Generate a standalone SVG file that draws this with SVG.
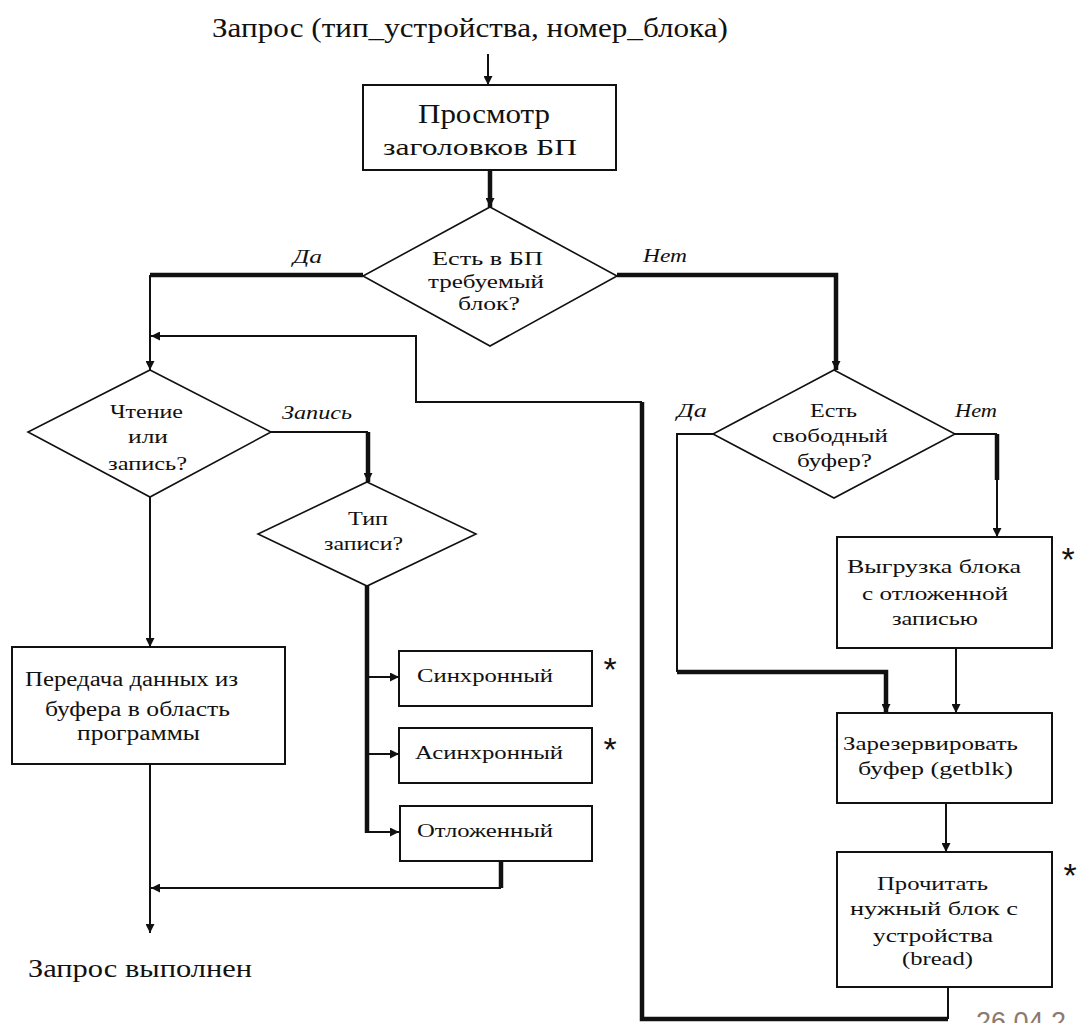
<svg xmlns="http://www.w3.org/2000/svg" width="1081" height="1023" viewBox="0 0 1081 1023">
  <style>
    .t { font-family: "Liberation Serif", "Times New Roman", serif; fill: #111; }
    .c { text-anchor: middle; }
    .lbl { font-family: "Liberation Serif", "Times New Roman", serif; font-style: italic; fill: #111; font-size: 18px; }
    .box { fill: #fff; stroke: #111; stroke-width: 2; }
    .dia { fill: #fff; stroke: #111; stroke-width: 1.6; }
    .thin { fill: none; stroke: #111; stroke-width: 2; }
    .thick { fill: none; stroke: #111; stroke-width: 4.5; }
    .star { font-family: "Liberation Sans", Arial, sans-serif; font-size: 34px; fill: #111; text-anchor: middle; }
    .date { font-family: "Liberation Sans", Arial, sans-serif; font-size: 27px; fill: #8a7a70; }
  </style>
  <defs>
    <marker id="arr" viewBox="0 0 10 10" refX="10" refY="5" markerWidth="9" markerHeight="9" markerUnits="userSpaceOnUse" orient="auto">
      <path d="M0,0 L10,5 L0,10 z" fill="#111"/>
    </marker>
  </defs>
  <rect width="1081" height="1023" fill="#fff"/>

  <!-- connectors -->
  <g id="connectors">
    <path class="thin" d="M488,54 V85" marker-end="url(#arr)"/>
    <path class="thick" d="M490,170 V207" marker-end="url(#arr)"/>
    <!-- yes: block found -->
    <path class="thick" d="M363,275 H150"/>
    <path class="thin" d="M150,275 V370" marker-end="url(#arr)"/>
    <!-- no: block missing -->
    <path class="thick" d="M617,275 H836 V370" marker-end="url(#arr)"/>
    <!-- free buffer: yes -->
    <path class="thin" d="M713,434 H677 V672"/>
    <path class="thick" d="M677,672 H886 V713" marker-end="url(#arr)"/>
    <!-- free buffer: no -->
    <path class="thin" d="M955,434 H997"/>
    <path class="thick" d="M997,434 V480"/>
    <path class="thin" d="M997,480 V537" marker-end="url(#arr)"/>
    <path class="thin" d="M956,648 V713" marker-end="url(#arr)"/>
    <path class="thin" d="M946,803 V852" marker-end="url(#arr)"/>
    <!-- loop back after reading the block -->
    <path class="thin" d="M948,987 V1019"/>
    <path class="thick" d="M948,1019 H642 V402"/>
    <path class="thin" d="M642,402 H416 V336 H151" marker-end="url(#arr)"/>
    <!-- read / write -->
    <path class="thin" d="M150,497 V647" marker-end="url(#arr)"/>
    <path class="thin" d="M271,432 H368"/>
    <path class="thick" d="M368,432 V482" marker-end="url(#arr)"/>
    <path class="thick" d="M367,586 V833"/>
    <path class="thin" d="M367,677 H399" marker-end="url(#arr)"/>
    <path class="thin" d="M367,754 H399" marker-end="url(#arr)"/>
    <path class="thin" d="M367,832 H399" marker-end="url(#arr)"/>
    <path class="thick" d="M501,861 V888"/>
    <path class="thin" d="M501,888 H151" marker-end="url(#arr)"/>
    <path class="thin" d="M150,764 V933" marker-end="url(#arr)"/>
  </g>

  <g id="request">
    <text class="t" x="212" y="37" font-size="28" textLength="516" lengthAdjust="spacingAndGlyphs">Запрос (тип_устройства, номер_блока)</text>
  </g>

  <g id="scan-headers">
    <rect class="box" x="363" y="85" width="253" height="85"/>
    <text class="t" x="418" y="123" font-size="28" textLength="132" lengthAdjust="spacingAndGlyphs">Просмотр</text>
    <text class="t" x="383" y="155" font-size="24" textLength="194" lengthAdjust="spacingAndGlyphs">заголовков БП</text>
  </g>

  <g id="block-in-cache">
    <polygon class="dia" points="490,207 617,276 490,346 363,276"/>
    <text class="t" x="432" y="265" font-size="19" textLength="111" lengthAdjust="spacingAndGlyphs">Есть в БП</text>
    <text class="t" x="428" y="288" font-size="19" textLength="116" lengthAdjust="spacingAndGlyphs">требуемый</text>
    <text class="t" x="458" y="310" font-size="19" textLength="62" lengthAdjust="spacingAndGlyphs">блок?</text>
    <text class="lbl" x="293" y="263" textLength="29" lengthAdjust="spacingAndGlyphs">Да</text>
    <text class="lbl" x="643" y="262" textLength="44" lengthAdjust="spacingAndGlyphs">Нет</text>
  </g>

  <g id="read-or-write">
    <polygon class="dia" points="150,370 271,432 150,497 28,432"/>
    <text class="t" x="110" y="418" font-size="18" textLength="73" lengthAdjust="spacingAndGlyphs">Чтение</text>
    <text class="t" x="128" y="443" font-size="18" textLength="40" lengthAdjust="spacingAndGlyphs">или</text>
    <text class="t" x="108" y="470" font-size="18" textLength="79" lengthAdjust="spacingAndGlyphs">запись?</text>
    <text class="lbl" x="282" y="419" textLength="70" lengthAdjust="spacingAndGlyphs">Запись</text>
  </g>

  <g id="write-type">
    <polygon class="dia" points="367,482 476,534 367,586 258,534"/>
    <text class="t" x="348" y="525" font-size="18" textLength="40" lengthAdjust="spacingAndGlyphs">Тип</text>
    <text class="t" x="324" y="550" font-size="18" textLength="79" lengthAdjust="spacingAndGlyphs">записи?</text>
  </g>

  <g id="copy-to-program">
    <rect class="box" x="12" y="647" width="273" height="117"/>
    <text class="t" x="25" y="686" font-size="20" textLength="213" lengthAdjust="spacingAndGlyphs">Передача данных из</text>
    <text class="t" x="45" y="716" font-size="20" textLength="185" lengthAdjust="spacingAndGlyphs">буфера в область</text>
    <text class="t" x="77" y="740" font-size="20" textLength="123" lengthAdjust="spacingAndGlyphs">программы</text>
  </g>

  <g id="sync">
    <rect class="box" x="399" y="651" width="193" height="55"/>
    <text class="t" x="417" y="682" font-size="19" textLength="136" lengthAdjust="spacingAndGlyphs">Синхронный</text>
    <text class="star" x="610" y="681">*</text>
  </g>

  <g id="async">
    <rect class="box" x="399" y="728" width="193" height="55"/>
    <text class="t" x="415" y="759" font-size="19" textLength="148" lengthAdjust="spacingAndGlyphs">Асинхронный</text>
    <text class="star" x="610" y="761">*</text>
  </g>

  <g id="delayed">
    <rect class="box" x="400" y="806" width="192" height="55"/>
    <text class="t" x="417" y="837" font-size="19" textLength="136" lengthAdjust="spacingAndGlyphs">Отложенный</text>
  </g>

  <g id="done">
    <text class="t" x="28" y="977" font-size="26" textLength="224" lengthAdjust="spacingAndGlyphs">Запрос выполнен</text>
  </g>

  <g id="free-buffer">
    <polygon class="dia" points="834,370 955,434 834,498 713,434"/>
    <text class="t" x="810" y="417" font-size="18" textLength="47" lengthAdjust="spacingAndGlyphs">Есть</text>
    <text class="t" x="772" y="442" font-size="18" textLength="116" lengthAdjust="spacingAndGlyphs">свободный</text>
    <text class="t" x="797" y="467" font-size="18" textLength="75" lengthAdjust="spacingAndGlyphs">буфер?</text>
    <text class="lbl" x="677" y="417" textLength="30" lengthAdjust="spacingAndGlyphs">Да</text>
    <text class="lbl" x="955" y="417" textLength="42" lengthAdjust="spacingAndGlyphs">Нет</text>
  </g>

  <g id="flush-delayed">
    <rect class="box" x="837" y="537" width="215" height="111"/>
    <text class="t" x="847" y="573" font-size="19" textLength="174" lengthAdjust="spacingAndGlyphs">Выгрузка блока</text>
    <text class="t" x="862" y="600" font-size="19" textLength="146" lengthAdjust="spacingAndGlyphs">с отложенной</text>
    <text class="t" x="892" y="625" font-size="19" textLength="86" lengthAdjust="spacingAndGlyphs">записью</text>
    <text class="star" x="1068" y="571">*</text>
  </g>

  <g id="getblk">
    <rect class="box" x="837" y="713" width="215" height="90"/>
    <text class="t" x="843" y="750" font-size="19" textLength="175" lengthAdjust="spacingAndGlyphs">Зарезервировать</text>
    <text class="t" x="858" y="775" font-size="19" textLength="155" lengthAdjust="spacingAndGlyphs">буфер (getblk)</text>
  </g>

  <g id="bread">
    <rect class="box" x="837" y="852" width="215" height="135"/>
    <text class="t" x="877" y="890" font-size="19" textLength="111" lengthAdjust="spacingAndGlyphs">Прочитать</text>
    <text class="t" x="850" y="915" font-size="19" textLength="168" lengthAdjust="spacingAndGlyphs">нужный блок с</text>
    <text class="t" x="873" y="942" font-size="19" textLength="120" lengthAdjust="spacingAndGlyphs">устройства</text>
    <text class="t" x="902" y="965" font-size="19" textLength="71" lengthAdjust="spacingAndGlyphs">(bread)</text>
    <text class="star" x="1070" y="887">*</text>
  </g>

  <text class="date" x="976" y="1031">26.04.2</text>
</svg>
